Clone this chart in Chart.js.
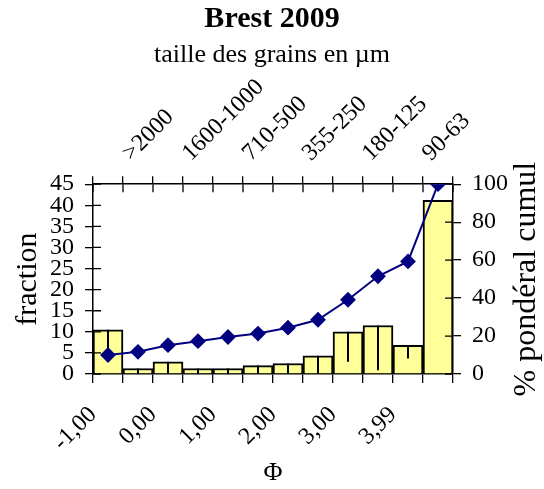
<!DOCTYPE html>
<html>
<head>
<meta charset="utf-8">
<script src="https://cdn.jsdelivr.net/npm/chart.js@4.4.1/dist/chart.umd.min.js"></script>
<style>
  body { margin: 0; background: #fff; }
  #wrap { width: 544px; height: 489px; }
</style>
</head>
<body>
<div id="wrap"><canvas id="brestChart"></canvas></div>
<script>
// bar centres in phi units (each class is 0.5 phi wide)
const phiCenters = [-0.75, -0.25, 0.25, 0.75, 1.25, 1.75, 2.25, 2.75, 3.25, 3.75, 4.25, 4.75];
// fraction per class (%)
const fraction = [10.5, 1.3, 2.9, 1.3, 1.3, 2.0, 2.5, 4.3, 10.0, 11.5, 6.8, 41.2];
// minus error bars on the fraction bars
const fractionErr = [6.5, 1.3, 2.9, 1.3, 1.3, 2.0, 2.5, 4.3, 7.1, 10.6, 3.1, 0];
// cumulative weight percent
const cumul = [10.0, 11.7, 15.2, 17.3, 19.5, 21.3, 24.4, 28.6, 39.1, 51.5, 59.3, 100];

// bottom axis (phi) labels
const phiTicks = [-1, 0, 1, 2, 3, 4];
const phiLabels = ['-1,00', '0,00', '1,00', '2,00', '3,00', '3,99'];
// top axis (grain size in micrometres) labels
const sizeTicks = [-0.5, 0.5, 1.5, 2.5, 3.5, 4.5];
const sizeLabels = ['>2000', '1600-1000', '710-500', '355-250', '180-125', '90-63'];

const FONT = '"Liberation Serif", "Times New Roman", serif';
Chart.defaults.font.family = FONT;
Chart.defaults.color = '#000';

const INNER_TICK = 8;
const rightTitle = '% pondéral cumul';

// error bars + inner half of the crossing tick marks
const extrasPlugin = {
    id: 'extras',
    afterDatasetDraw(chart, args) {
        if (args.index !== 0) return;
        const c = chart.ctx;
        const {x, xTop, y, y2} = chart.scales;
        const area = chart.chartArea;
        c.save();
        c.strokeStyle = '#000';
        c.lineWidth = 2;
        // error bars (minus side only)
        fraction.forEach((v, i) => {
            if (!fractionErr[i]) return;
            const px = x.getPixelForValue(phiCenters[i]);
            const low = Math.max(0, v - fractionErr[i]);
            c.beginPath();
            c.moveTo(px, y.getPixelForValue(v));
            c.lineTo(px, y.getPixelForValue(low));
            c.stroke();
        });
        c.lineWidth = 1.3;
        c.beginPath();
        y.ticks.forEach(t => {
            const py = y.getPixelForValue(t.value);
            c.moveTo(area.left, py);
            c.lineTo(area.left + INNER_TICK, py);
        });
        y2.ticks.forEach(t => {
            const py = y2.getPixelForValue(t.value);
            c.moveTo(area.right, py);
            c.lineTo(area.right - INNER_TICK, py);
        });
        xTop.ticks.forEach(t => {
            const px = xTop.getPixelForValue(t.value);
            c.moveTo(px, area.top);
            c.lineTo(px, area.top + INNER_TICK);
        });
        c.stroke();
        c.restore();
    },
    // right axis title reads bottom-to-top, which Chart.js won't do on a right axis
    afterDraw(chart) {
        const c = chart.ctx;
        const area = chart.chartArea;
        c.save();
        c.translate(chart.width - 17, (area.top + area.bottom) / 2);
        c.rotate(-Math.PI / 2);
        c.font = '32px ' + FONT;
        c.fillStyle = '#000';
        c.textAlign = 'center';
        c.textBaseline = 'middle';
        c.fillText(rightTitle, 0, 0);
        c.restore();
    }
};

const tickGrid = (len) => ({
    drawOnChartArea: false,
    offset: false,
    color: '#000',
    lineWidth: 1.3,
    tickLength: len
});
const axisBorder = { display: true, color: '#000', width: 1.5 };

new Chart(document.getElementById('brestChart'), {
    type: 'bar',
    data: {
        datasets: [
            {
                label: 'fraction',
                data: phiCenters.map((p, i) => ({x: p, y: fraction[i]})),
                backgroundColor: '#FFFF99',
                borderColor: '#000',
                borderWidth: 2,
                barPercentage: 1,
                categoryPercentage: 1,
                xAxisID: 'x',
                yAxisID: 'y',
                order: 2
            },
            {
                type: 'line',
                label: rightTitle,
                data: phiCenters.map((p, i) => ({x: p, y: cumul[i]})),
                borderColor: '#000080',
                backgroundColor: '#000080',
                borderWidth: 2,
                pointStyle: 'rectRot',
                pointRadius: 6.5,
                pointHoverRadius: 6.5,
                xAxisID: 'x',
                yAxisID: 'y2',
                order: 1
            }
        ]
    },
    options: {
        responsive: true,
        maintainAspectRatio: false,
        animation: false,
        events: [],
        layout: { padding: 0 },
        plugins: {
            legend: { display: false },
            tooltip: { enabled: false },
            title: {
                display: true,
                text: 'Brest 2009',
                font: { size: 30, weight: 'bold' },
                padding: { top: 1, bottom: 0 },
                color: '#000'
            },
            subtitle: {
                display: true,
                text: 'taille des grains en µm',
                font: { size: 26 },
                padding: { top: 3, bottom: 0 },
                color: '#000'
            }
        },
        scales: {
            x: {
                type: 'linear',
                position: 'bottom',
                min: -1,
                max: 5,
                offset: false,
                grid: tickGrid(9),
                border: axisBorder,
                ticks: {
                    stepSize: 0.5,
                    autoSkip: false,
                    minRotation: 45,
                    maxRotation: 45,
                    padding: 18,
                    font: { size: 24 },
                    callback: v => {
                        const k = phiTicks.indexOf(v);
                        return k >= 0 ? phiLabels[k] : '';
                    }
                },
                title: {
                    display: true,
                    text: 'Φ',
                    font: { size: 26 },
                    padding: { top: 0, bottom: 0 }
                },
                afterFit: s => { s.height = 115; }
            },
            xTop: {
                type: 'linear',
                position: 'top',
                min: -1,
                max: 5,
                offset: false,
                grid: tickGrid(8),
                border: axisBorder,
                ticks: {
                    stepSize: 0.5,
                    autoSkip: false,
                    minRotation: 45,
                    maxRotation: 45,
                    padding: 9,
                    labelOffset: 24,
                    font: { size: 24 },
                    callback: v => {
                        const k = sizeTicks.indexOf(v);
                        return k >= 0 ? sizeLabels[k] : '';
                    }
                },
                afterFit: s => { s.height = 113; }
            },
            y: {
                type: 'linear',
                position: 'left',
                min: 0,
                max: 45,
                grid: tickGrid(8),
                border: axisBorder,
                ticks: {
                    stepSize: 5,
                    autoSkip: false,
                    padding: 11,
                    font: { size: 24 }
                },
                title: {
                    display: true,
                    text: 'fraction',
                    font: { size: 30 },
                    padding: { top: 10, bottom: 0 }
                },
                afterFit: s => { s.width = 93; }
            },
            y2: {
                type: 'linear',
                position: 'right',
                min: 0,
                max: 100,
                grid: tickGrid(8),
                border: axisBorder,
                ticks: {
                    stepSize: 20,
                    autoSkip: false,
                    padding: 11,
                    font: { size: 24 }
                },
                afterFit: s => { s.width = 91; }
            }
        }
    },
    plugins: [extrasPlugin]
});
</script>
</body>
</html>
